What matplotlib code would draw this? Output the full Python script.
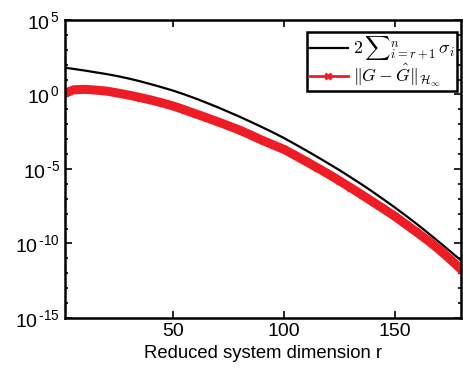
#plot the balanced truncation error bound vs the actual error
import matplotlib.pyplot as plt
import numpy as np

plt.rcParams['font.family'] = ['Liberation Sans', 'DejaVu Sans']
plt.rcParams['mathtext.fontset'] = 'cm'

# reduced order r where the curves were read
r_vals = [1, 5, 10, 15, 20, 25, 30, 35, 40, 45, 50, 55, 60, 65, 70, 75, 80, 85, 90, 95, 100,
          105, 110, 115, 120, 125, 130, 135, 140, 145, 150, 155, 160, 165, 170, 175, 180]
# log10 of 2*sum(sigma_i)
log_bound = [1.79, 1.71, 1.60, 1.48, 1.36, 1.22, 1.06, 0.88, 0.68, 0.47, 0.25, 0.00, -0.27,
             -0.56, -0.86, -1.18, -1.50, -1.84, -2.19, -2.55, -2.93, -3.34, -3.76, -4.19,
             -4.63, -5.08, -5.55, -6.03, -6.53, -7.05, -7.58, -8.13, -8.70, -9.29, -9.90,
             -10.52, -11.15]
# log10 of the H-infinity error
log_err = [0.07, 0.31, 0.34, 0.29, 0.22, 0.09, -0.05, -0.21, -0.38, -0.57, -0.78, -1.03, -1.30,
           -1.56, -1.83, -2.11, -2.40, -2.73, -3.07, -3.38, -3.69, -4.09, -4.50, -4.92, -5.34,
           -5.79, -6.25, -6.72, -7.20, -7.68, -8.17, -8.71, -9.25, -9.80, -10.40, -11.05, -11.74]
y_exps = [5, 0, -5, -10, -15]

fig = plt.figure(figsize=(4.63, 3.75), dpi=100)
ax = fig.add_axes([0.140, 0.152, 0.856, 0.795])

ax.semilogy(r_vals, 10.0 ** np.array(log_bound), color='black', linewidth=1.6,
            label=r'$2\,\sum{}_{i=r+1}^{n}\,\sigma_i$')
ax.semilogy(r_vals, 10.0 ** np.array(log_err), color='#ee1c24', linewidth=6.5,
            marker='x', markersize=5, markeredgewidth=2,
            label=r'$\|G-\hat{G}\|_{\mathcal{H}_\infty}$')

ax.set_xlim(1, 180)
ax.set_ylim(1e-15, 1e5)
ax.set_xticks([50, 100, 150])
ax.set_yticks([10.0 ** e for e in y_exps])
ax.set_yticklabels([r'$\mathregular{10^{\,%s}}$' % str(e).replace('-', '\u2010') for e in y_exps])
ax.yaxis.set_minor_locator(plt.FixedLocator(10.0 ** np.arange(-15, 6)))
ax.yaxis.set_minor_formatter(plt.NullFormatter())
ax.tick_params(which='both', direction='in', top=True, right=True, labelsize=14, width=1.2)
ax.tick_params(which='major', length=5)
ax.tick_params(which='minor', length=2.5)
for s in ax.spines.values():
    s.set_linewidth(1.8)

ax.set_xlabel('Reduced system dimension r', fontsize=13.3)
leg = ax.legend(loc='upper right', bbox_to_anchor=(0.99, 0.96), borderaxespad=0,
                fontsize=12.8, fancybox=False, framealpha=1, edgecolor='black',
                handlelength=2.2, borderpad=0.12, labelspacing=0.0, handletextpad=0.3)
leg.get_frame().set_linewidth(1.8)
leg.legend_handles[1].set_linewidth(2)

fig.savefig('out.png', dpi=100)
